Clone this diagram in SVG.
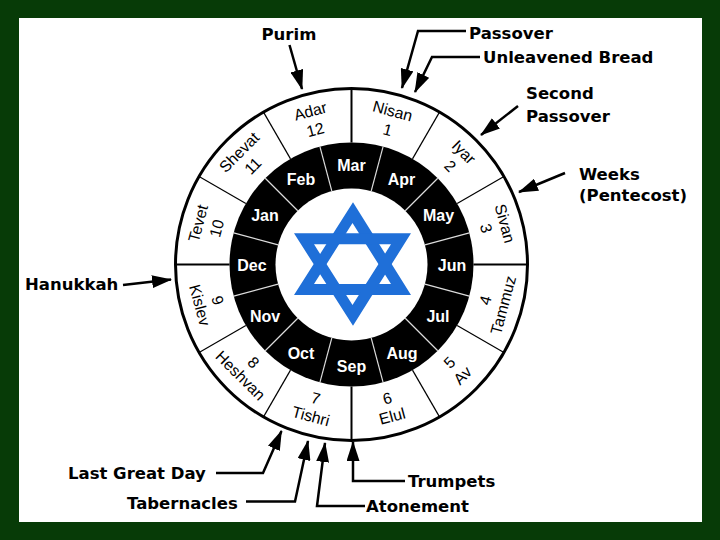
<svg xmlns="http://www.w3.org/2000/svg" width="720" height="540" viewBox="0 0 720 540">
<style>
.lbl{font-family:"DejaVu Sans",Verdana,sans-serif;font-weight:bold;font-size:16.5px;fill:#000}
.mo{font-family:"Liberation Sans",Arial,sans-serif;font-size:15.8px;fill:#000;text-anchor:middle}
.gm{font-family:"Liberation Sans",Arial,sans-serif;font-weight:bold;font-size:16px;fill:#fff;text-anchor:middle}
.div{stroke:#000;stroke-width:1.2}
.axis{stroke:#000;stroke-width:2}
.wdiv{stroke:#ddd;stroke-width:1.2}
.conn{fill:none;stroke:#000;stroke-width:2.5;marker-end:url(#ah)}
</style>
<defs>
<marker id="ah" markerWidth="21" markerHeight="13" refX="19" refY="6.5" orient="auto" markerUnits="userSpaceOnUse">
<path d="M0,0 L20,6.5 L0,13 Z" fill="#000"/>
</marker>
</defs>
<rect x="0" y="0" width="720" height="540" fill="#073b07"/>
<rect x="19" y="18" width="683" height="504" fill="#fff"/>

<g id="wheel" transform="translate(351.5,264.5)">
<circle r="176" fill="#fff" stroke="#000" stroke-width="3"/>
<circle r="122" fill="#000"/>
<circle r="76" fill="#fff"/>
<g id="outer-dividers">
<line class="axis" x1="0" y1="-122" x2="0" y2="-176"/>
<line class="div" x1="0" y1="-122" x2="0" y2="-176" transform="rotate(30)"/>
<line class="div" x1="0" y1="-122" x2="0" y2="-176" transform="rotate(60)"/>
<line class="axis" x1="0" y1="-122" x2="0" y2="-176" transform="rotate(90)"/>
<line class="div" x1="0" y1="-122" x2="0" y2="-176" transform="rotate(120)"/>
<line class="div" x1="0" y1="-122" x2="0" y2="-176" transform="rotate(150)"/>
<line class="axis" x1="0" y1="-122" x2="0" y2="-176" transform="rotate(180)"/>
<line class="div" x1="0" y1="-122" x2="0" y2="-176" transform="rotate(210)"/>
<line class="div" x1="0" y1="-122" x2="0" y2="-176" transform="rotate(240)"/>
<line class="axis" x1="0" y1="-122" x2="0" y2="-176" transform="rotate(270)"/>
<line class="div" x1="0" y1="-122" x2="0" y2="-176" transform="rotate(300)"/>
<line class="div" x1="0" y1="-122" x2="0" y2="-176" transform="rotate(330)"/>
</g>
<g id="inner-dividers">
<line class="wdiv" x1="0" y1="-76" x2="0" y2="-122" transform="rotate(15)"/>
<line class="wdiv" x1="0" y1="-76" x2="0" y2="-122" transform="rotate(45)"/>
<line class="wdiv" x1="0" y1="-76" x2="0" y2="-122" transform="rotate(75)"/>
<line class="wdiv" x1="0" y1="-76" x2="0" y2="-122" transform="rotate(105)"/>
<line class="wdiv" x1="0" y1="-76" x2="0" y2="-122" transform="rotate(135)"/>
<line class="wdiv" x1="0" y1="-76" x2="0" y2="-122" transform="rotate(165)"/>
<line class="wdiv" x1="0" y1="-76" x2="0" y2="-122" transform="rotate(195)"/>
<line class="wdiv" x1="0" y1="-76" x2="0" y2="-122" transform="rotate(225)"/>
<line class="wdiv" x1="0" y1="-76" x2="0" y2="-122" transform="rotate(255)"/>
<line class="wdiv" x1="0" y1="-76" x2="0" y2="-122" transform="rotate(285)"/>
<line class="wdiv" x1="0" y1="-76" x2="0" y2="-122" transform="rotate(315)"/>
<line class="wdiv" x1="0" y1="-76" x2="0" y2="-122" transform="rotate(345)"/>
</g>
</g>

<g id="hebrew-months">
<g id="nisan" transform="translate(351.5,264.5) rotate(15)"><text class="mo" y="-153.4">Nisan</text><text class="mo" y="-134">1</text></g>
<g id="iyar" transform="translate(351.5,264.5) rotate(45)"><text class="mo" y="-153.4">Iyar</text><text class="mo" y="-134">2</text></g>
<g id="sivan" transform="translate(351.5,264.5) rotate(75)"><text class="mo" y="-153.4">Sivan</text><text class="mo" y="-134">3</text></g>
<g id="tammuz" transform="translate(351.5,264.5) rotate(-75)"><text class="mo" y="144">4</text><text class="mo" y="162.5">Tammuz</text></g>
<g id="av" transform="translate(351.5,264.5) rotate(-45)"><text class="mo" y="144">5</text><text class="mo" y="162.5">Av</text></g>
<g id="elul" transform="translate(351.5,264.5) rotate(-15)"><text class="mo" y="144">6</text><text class="mo" y="162.5">Elul</text></g>
<g id="tishri" transform="translate(351.5,264.5) rotate(15)"><text class="mo" y="144">7</text><text class="mo" y="162.5">Tishri</text></g>
<g id="heshvan" transform="translate(351.5,264.5) rotate(45)"><text class="mo" y="144">8</text><text class="mo" y="162.5">Heshvan</text></g>
<g id="kislev" transform="translate(351.5,264.5) rotate(75)"><text class="mo" y="144">9</text><text class="mo" y="162.5">Kislev</text></g>
<g id="tevet" transform="translate(351.5,264.5) rotate(-75)"><text class="mo" y="-153.4">Tevet</text><text class="mo" y="-134">10</text></g>
<g id="shevat" transform="translate(351.5,264.5) rotate(-45)"><text class="mo" y="-153.4">Shevat</text><text class="mo" y="-134">11</text></g>
<g id="adar" transform="translate(351.5,264.5) rotate(-15)"><text class="mo" y="-153.4">Adar</text><text class="mo" y="-134">12</text></g>
</g>

<g id="gregorian-months">
<text id="mar" class="gm" x="351.5" y="170.5">Mar</text>
<text id="apr" class="gm" x="401.5" y="184.5">Apr</text>
<text id="may" class="gm" x="438.5" y="221">May</text>
<text id="jun" class="gm" x="452" y="271">Jun</text>
<text id="jul" class="gm" x="438" y="321.5">Jul</text>
<text id="aug" class="gm" x="402" y="358.5">Aug</text>
<text id="sep" class="gm" x="351.5" y="372">Sep</text>
<text id="oct" class="gm" x="301" y="358.5">Oct</text>
<text id="nov" class="gm" x="265" y="321.5">Nov</text>
<text id="dec" class="gm" x="252" y="270.5">Dec</text>
<text id="jan" class="gm" x="265" y="221">Jan</text>
<text id="feb" class="gm" x="301" y="184.5">Feb</text>
</g>

<g id="star" fill="#1f6fd8" fill-rule="evenodd">
<path d="M353,202.3 L411,295 L294,295 Z M352.5,223 L314,284 L391,284 Z"/>
<path d="M353,325.7 L411,233.3 L294,233.3 Z M352.5,305.1 L314,244.3 L391,244.3 Z"/>
</g>

<g id="festivals">
<g id="purim"><text class="lbl" x="261.5" y="40">Purim</text></g>
<g id="passover"><text class="lbl" x="469" y="39">Passover</text></g>
<g id="unleavened-bread"><text class="lbl" x="483" y="63">Unleavened Bread</text></g>
<g id="second-passover"><text class="lbl" x="526" y="99">Second</text><text class="lbl" x="526" y="121.5">Passover</text></g>
<g id="weeks"><text class="lbl" x="579" y="180">Weeks</text><text class="lbl" x="579" y="201">(Pentecost)</text></g>
<g id="hanukkah"><text class="lbl" x="25" y="290">Hanukkah</text></g>
<g id="last-great-day"><text class="lbl" x="68" y="479">Last Great Day</text></g>
<g id="tabernacles"><text class="lbl" x="127" y="509">Tabernacles</text></g>
<g id="trumpets"><text class="lbl" x="408" y="487">Trumpets</text></g>
<g id="atonement"><text class="lbl" x="366" y="512">Atonement</text></g>
</g>

<g id="connectors">
<path class="conn" d="M289.5,45 L302,89"/>
<path class="conn" d="M466,31 L418,31 L402,88"/>
<path class="conn" d="M480,57 L432,57 L415,92"/>
<path class="conn" d="M518,106 L481,135"/>
<path class="conn" d="M565,173 L519,192"/>
<path class="conn" d="M123,285 L171,279.5"/>
<path class="conn" d="M216,473 L263,473 L281.5,431"/>
<path class="conn" d="M246,501.5 L295,501.5 L308,441"/>
<path class="conn" d="M365,506 L317,506 L325,443"/>
<path class="conn" d="M405,481 L353,481 L353,442"/>
</g>
</svg>
